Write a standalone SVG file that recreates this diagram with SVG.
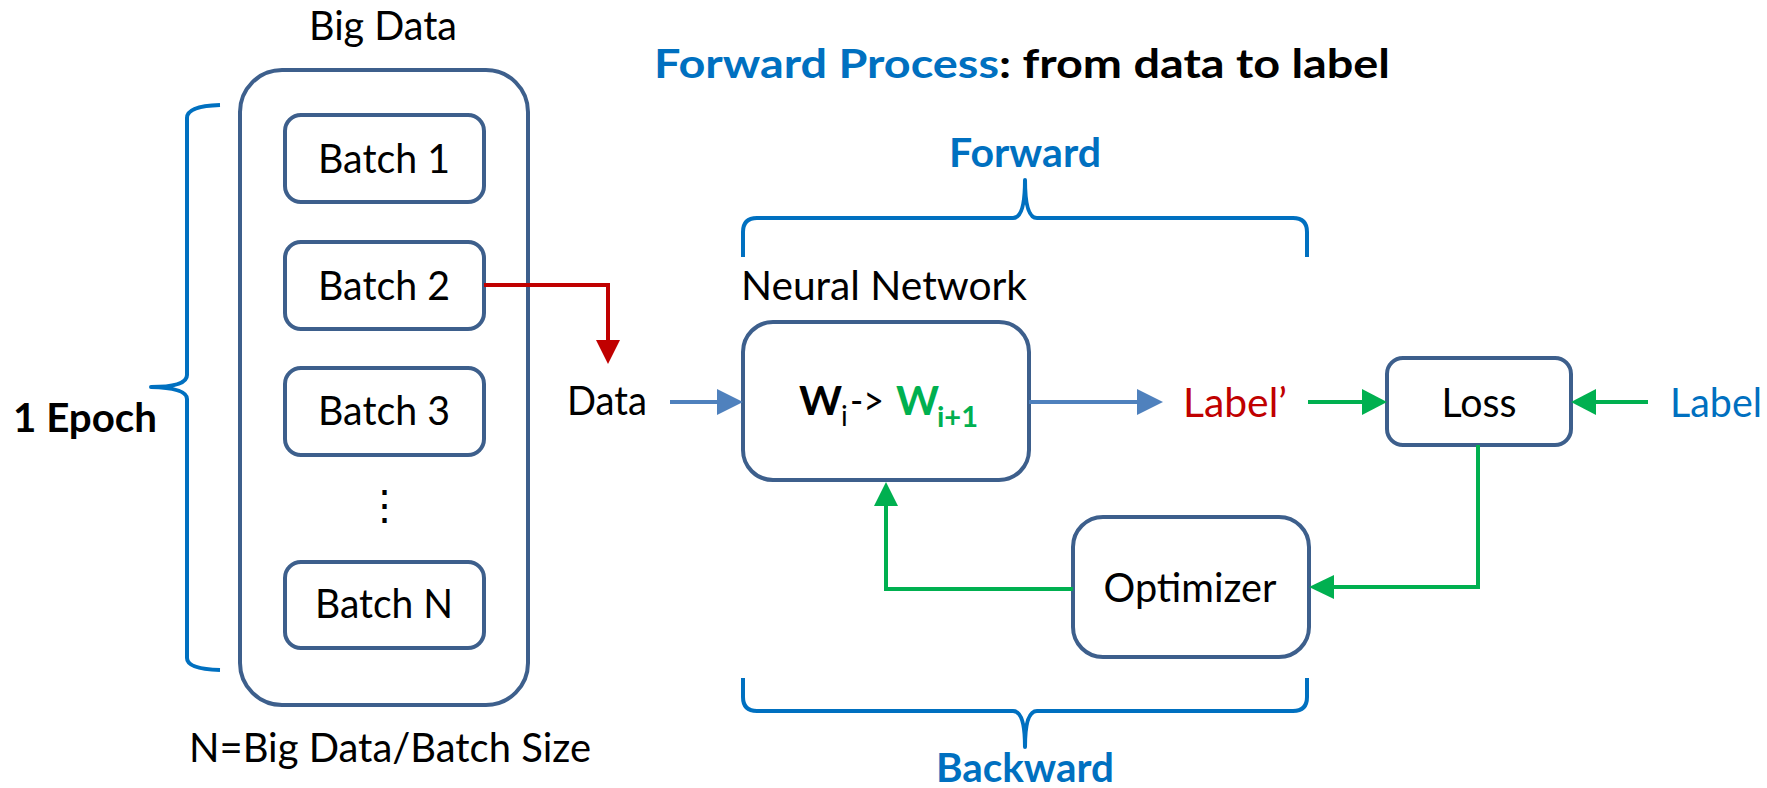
<svg xmlns="http://www.w3.org/2000/svg" width="1767" height="788" viewBox="0 0 1767 788">
  <style>
    .box { fill: #FFFFFF; stroke: #3D5F8C; stroke-width: 4; }
    .t { font-family: Lato, "Liberation Sans", sans-serif; font-size: 41px; fill: #000000; }
    .b { font-weight: bold; }
    .blue { fill: #0070C0; }
    .red { fill: #C00000; }
    .green { fill: #00B050; }
    .brace { fill: none; stroke: #0070C0; stroke-width: 4; stroke-linejoin: round; }
    .ln-red { fill: none; stroke: #C00000; stroke-width: 4; }
    .ln-blue { fill: none; stroke: #4F81BD; stroke-width: 4; }
    .ln-green { fill: none; stroke: #00B050; stroke-width: 4; }
    .hd-red { fill: #C00000; }
    .hd-blue { fill: #4F81BD; }
    .hd-green { fill: #00B050; }
  </style>

  <!-- title -->
  <text class="t b" x="654" y="78" font-size="48" textLength="736" lengthAdjust="spacingAndGlyphs"><tspan class="blue">Forward Process</tspan>: from data to label</text>

  <!-- big data container with batches -->
  <g id="big-data">
    <text class="t" x="383" y="40" text-anchor="middle" textLength="148" lengthAdjust="spacingAndGlyphs">Big Data</text>
    <rect class="box" x="240" y="70" width="288" height="635" rx="42" ry="42"/>
    <text class="t" x="390" y="762" text-anchor="middle" textLength="402" lengthAdjust="spacingAndGlyphs">N=Big Data/Batch Size</text>
  </g>
  <g id="batch-1">
    <rect class="box" x="285" y="115" width="199" height="87" rx="16" ry="16"/>
    <text class="t" x="384" y="173" text-anchor="middle" textLength="132" lengthAdjust="spacingAndGlyphs">Batch 1</text>
  </g>
  <g id="batch-2">
    <rect class="box" x="285" y="242" width="199" height="87" rx="16" ry="16"/>
    <text class="t" x="384" y="300" text-anchor="middle" textLength="132" lengthAdjust="spacingAndGlyphs">Batch 2</text>
  </g>
  <g id="batch-3">
    <rect class="box" x="285" y="368" width="199" height="87" rx="16" ry="16"/>
    <text class="t" x="384" y="425" text-anchor="middle" textLength="132" lengthAdjust="spacingAndGlyphs">Batch 3</text>
  </g>
  <g id="batch-ellipsis">
    <text class="t" x="384" y="520" text-anchor="middle" font-family="DejaVu Sans, sans-serif" font-size="34">⋮</text>
  </g>
  <g id="batch-n">
    <rect class="box" x="285" y="562" width="199" height="86" rx="16" ry="16"/>
    <text class="t" x="384" y="618" text-anchor="middle" textLength="138" lengthAdjust="spacingAndGlyphs">Batch N</text>
  </g>

  <!-- epoch brace -->
  <g id="epoch">
    <path class="brace" d="M220,105 Q187,106 187,118 L187,375 Q187,387 151,387 Q187,388 187,399 L187,658 Q187,669 220,670"/>
    <text class="t b" x="13" y="432" textLength="144" lengthAdjust="spacingAndGlyphs">1 Epoch</text>
  </g>

  <!-- input / output labels -->
  <g id="data">
    <text class="t" x="567" y="415" textLength="80" lengthAdjust="spacingAndGlyphs">Data</text>
  </g>
  <g id="label-pred">
    <text class="t red" x="1183" y="417" textLength="104" lengthAdjust="spacingAndGlyphs">Label’</text>
  </g>
  <g id="label-true">
    <text class="t blue" x="1670" y="417" textLength="92" lengthAdjust="spacingAndGlyphs">Label</text>
  </g>

  <!-- neural network -->
  <g id="neural-network">
    <text class="t" x="741" y="300" textLength="286" lengthAdjust="spacingAndGlyphs">Neural Network</text>
    <rect class="box" x="743" y="322" width="286" height="158" rx="30" ry="30"/>
    <text class="t" y="415">
      <tspan class="b" x="799">W</tspan><tspan x="841" dy="11" font-size="28">i</tspan><tspan x="850" dy="-11" textLength="34" lengthAdjust="spacingAndGlyphs">-&gt;</tspan><tspan class="b green" x="896">W</tspan><tspan class="b green" x="937" dy="12" font-size="29">i+1</tspan>
    </text>
  </g>

  <!-- loss -->
  <g id="loss">
    <rect class="box" x="1387" y="358" width="184" height="87" rx="16" ry="16"/>
    <text class="t" x="1479" y="417" text-anchor="middle" textLength="75" lengthAdjust="spacingAndGlyphs">Loss</text>
  </g>

  <!-- optimizer -->
  <g id="optimizer">
    <rect class="box" x="1073" y="517" width="236" height="140" rx="30" ry="30"/>
    <text class="t" x="1190" y="602" text-anchor="middle" textLength="173" lengthAdjust="spacingAndGlyphs">Optimizer</text>
  </g>

  <!-- forward / backward braces -->
  <g id="forward">
    <text class="t b blue" x="1025" y="167" text-anchor="middle" textLength="152" lengthAdjust="spacingAndGlyphs">Forward</text>
    <path class="brace" d="M743,257 L743,232 Q743,218 757,218 L1013,218 Q1025,218 1025,180 Q1025,218 1037,218 L1293,218 Q1307,218 1307,232 L1307,257"/>
  </g>
  <g id="backward">
    <path class="brace" d="M743,678 L743,697 Q743,711 757,711 L1013,711 Q1025,711 1025,747 Q1025,711 1037,711 L1293,711 Q1307,711 1307,697 L1307,678"/>
    <text class="t b blue" x="1025" y="782" text-anchor="middle" textLength="178" lengthAdjust="spacingAndGlyphs">Backward</text>
  </g>

  <!-- connectors -->
  <g id="connectors">
    <!-- batch 2 feeds the data input -->
    <path class="ln-red" d="M484,285 L608,285 L608,342"/>
    <polygon class="hd-red" points="596,340 620,340 608,364"/>
    <!-- forward pass -->
    <path class="ln-blue" d="M670,402 L719,402"/>
    <polygon class="hd-blue" points="717,389 743,402 717,415"/>
    <path class="ln-blue" d="M1029,402 L1139,402"/>
    <polygon class="hd-blue" points="1137,389 1163,402 1137,415"/>
    <!-- into loss -->
    <path class="ln-green" d="M1308,402 L1364,402"/>
    <polygon class="hd-green" points="1362,389 1387,402 1362,415"/>
    <path class="ln-green" d="M1648,402 L1593,402"/>
    <polygon class="hd-green" points="1596,389 1571,402 1596,415"/>
    <!-- loss to optimizer -->
    <path class="ln-green" d="M1478,445 L1478,587 L1331,587"/>
    <polygon class="hd-green" points="1334,575 1309,587 1334,599"/>
    <!-- optimizer updates the weights -->
    <path class="ln-green" d="M1073,589 L886,589 L886,504"/>
    <polygon class="hd-green" points="874,506 898,506 886,482"/>
  </g>
</svg>
